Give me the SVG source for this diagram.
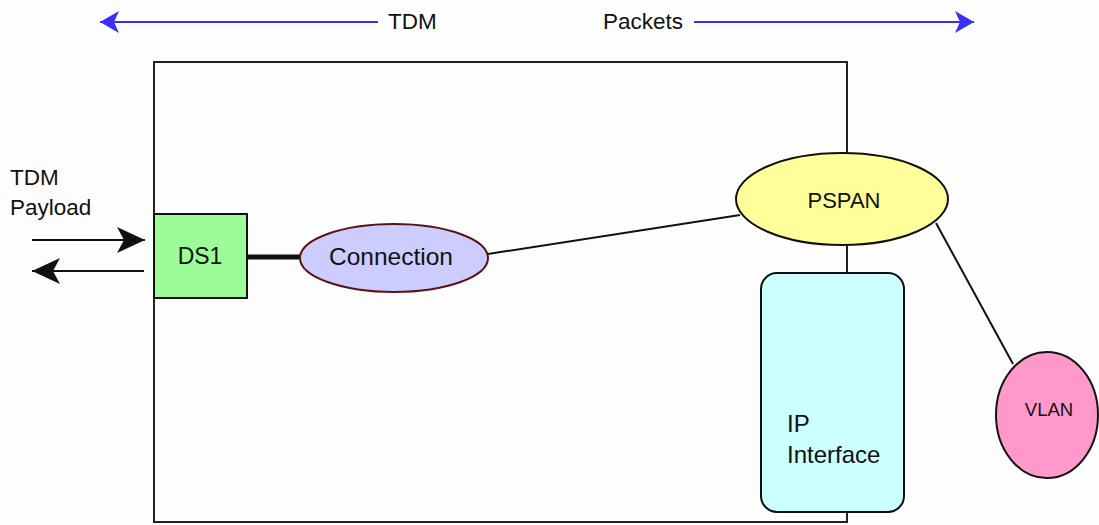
<svg xmlns="http://www.w3.org/2000/svg" width="1099" height="525" viewBox="0 0 1099 525">
  <style>
    .lbl { font-family: "Liberation Sans", Arial, sans-serif; fill: #111; }
    .edge { stroke: #111; stroke-width: 2; fill: none; }
    .node { stroke: #111; stroke-width: 2; }
  </style>
  <defs>
    <marker id="blueHead" markerUnits="userSpaceOnUse" markerWidth="24" markerHeight="26" refX="21" refY="12" orient="auto" viewBox="0 0 24 26">
      <path d="M21,12 L2,1 L7,12 L2,23 Z" fill="#3a2ff5"/>
    </marker>
    <marker id="blackHead" markerUnits="userSpaceOnUse" markerWidth="32" markerHeight="30" refX="30" refY="14" orient="auto" viewBox="0 0 32 30">
      <path d="M30,14 L2,1 L9,14 L2,27 Z" fill="#111"/>
    </marker>
  </defs>

  <rect x="0" y="0" width="1099" height="525" fill="#fdfdfd"/>

  <!-- domain labels along the top -->
  <g id="domains">
    <line x1="378" y1="22" x2="100" y2="22" stroke="#3a2ff5" stroke-width="2" marker-end="url(#blueHead)"/>
    <text class="lbl" x="388" y="29" font-size="22.5">TDM</text>
    <text class="lbl" x="603" y="29" font-size="22.5">Packets</text>
    <line x1="694" y1="22" x2="974" y2="22" stroke="#3a2ff5" stroke-width="2" marker-end="url(#blueHead)"/>
  </g>

  <!-- equipment boundary -->
  <g id="chassis">
    <rect x="154" y="62" width="693" height="460" fill="none" stroke="#222" stroke-width="2"/>
  </g>

  <!-- payload in/out -->
  <g id="payload">
    <text class="lbl" x="10" y="185" font-size="22.5">TDM</text>
    <text class="lbl" x="10" y="215" font-size="22.5">Payload</text>
    <line x1="32" y1="240" x2="145" y2="240" stroke="#111" stroke-width="2" marker-end="url(#blackHead)"/>
    <line x1="144" y1="271" x2="32" y2="271" stroke="#111" stroke-width="2" marker-end="url(#blackHead)"/>
  </g>

  <!-- connectors -->
  <g id="connectors">
    <line x1="247" y1="257" x2="300" y2="257" stroke="#111" stroke-width="5"/>
    <line class="edge" x1="488" y1="254" x2="740" y2="215"/>
    <line class="edge" x1="936" y1="223" x2="1013" y2="364"/>
  </g>

  <g id="ds1">
    <rect class="node" x="154" y="214" width="93" height="84" fill="#9cfc98"/>
    <text class="lbl" x="200" y="264" font-size="23" text-anchor="middle">DS1</text>
  </g>

  <g id="connection">
    <ellipse cx="394" cy="258" rx="94" ry="34" fill="#ccccff" stroke="#5a1212" stroke-width="2"/>
    <text class="lbl" x="391" y="265" font-size="24.5" text-anchor="middle">Connection</text>
  </g>

  <g id="pspan">
    <ellipse class="node" cx="842" cy="199" rx="106" ry="46" fill="#ffff99"/>
    <text class="lbl" x="844" y="208" font-size="22" text-anchor="middle">PSPAN</text>
  </g>

  <g id="ip-interface">
    <rect class="node" x="761" y="273" width="143" height="239" rx="16" ry="16" fill="#ccffff"/>
    <text class="lbl" x="787" y="432" font-size="24">IP</text>
    <text class="lbl" x="787" y="463" font-size="24">Interface</text>
  </g>

  <g id="vlan">
    <ellipse class="node" cx="1047" cy="415" rx="51" ry="63" fill="#ff99cc"/>
    <text class="lbl" x="1049" y="416" font-size="18.5" text-anchor="middle">VLAN</text>
  </g>
</svg>
